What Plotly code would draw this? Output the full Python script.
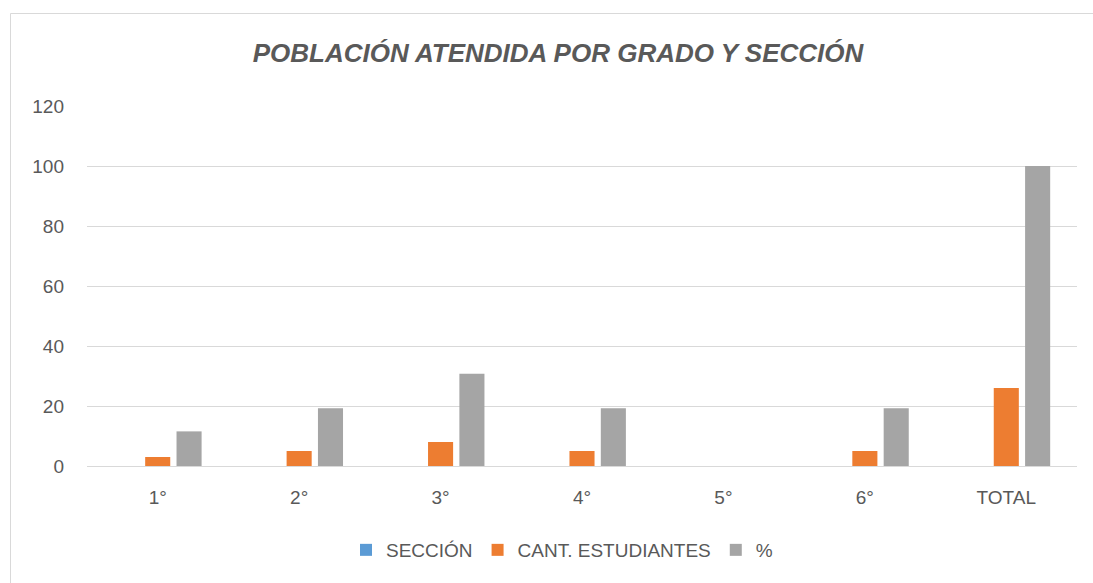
import plotly.graph_objects as go

categories = ["1°", "2°", "3°", "4°", "5°", "6°", "TOTAL"]
seccion = [0, 0, 0, 0, 0, 0, 0]
cant_estudiantes = [3, 5, 8, 5, 0, 5, 26]
porcentaje = [11.54, 19.23, 30.77, 19.23, 0, 19.23, 100]

W, H = 1093, 583
ML, MR, MT, MB = 87, 16, 106, 117
PW = W - ML - MR
PH = H - MT - MB

def px_x(p):
    return (p - ML) / PW

def px_y(p):
    return (H - MB - p) / PH

txt = "#595959"
font_family = "Liberation Sans, Arial, sans-serif"

fig = go.Figure()
fig.add_trace(go.Bar(name="SECCIÓN", x=categories, y=seccion, marker_color="#5b9bd5"))
fig.add_trace(go.Bar(name="CANT. ESTUDIANTES", x=categories, y=cant_estudiantes, marker_color="#ed7d31"))
fig.add_trace(go.Bar(name="%", x=categories, y=porcentaje, marker_color="#a5a5a5"))
fig.update_traces(marker_line_width=0)

fig.update_layout(
    width=W, height=H,
    margin=dict(l=ML, r=MR, t=MT, b=MB),
    paper_bgcolor="white", plot_bgcolor="white",
    barmode="group", bargap=0.335, bargroupgap=0.2,
    font=dict(family=font_family, color=txt, size=19),
    title=dict(text="<b><i>POBLACIÓN ATENDIDA POR GRADO Y SECCIÓN</i></b>",
               x=558 / W, xanchor="center", y=1 - 53 / H, yanchor="middle",
               xref="container", yref="container",
               font=dict(size=26, color=txt, family=font_family)),
    legend=dict(orientation="h", x=px_x(562), xanchor="center", y=px_y(550), yanchor="middle",
                font=dict(size=19, color=txt), itemwidth=30, traceorder="normal"),
    xaxis=dict(showgrid=False, showline=False, ticks="", tickfont=dict(size=19, color=txt),
               ticklabelstandoff=18),
    yaxis=dict(range=[0, 120], dtick=20, showgrid=True, gridcolor="#d9d9d9", gridwidth=1,
               zeroline=True, zerolinecolor="#d9d9d9", zerolinewidth=1, showline=False,
               ticks="", tickfont=dict(size=19, color=txt), ticklabelstandoff=22),
    shapes=[dict(type="rect", xref="paper", yref="paper",
                 x0=px_x(10.5), x1=px_x(1110), y0=px_y(600), y1=px_y(13.5),
                 line=dict(color="#d9d9d9", width=1), fillcolor="rgba(0,0,0,0)", layer="below")],
)

fig.write_html("out.html", post_script="document.body.style.margin='0';",
               config={"displayModeBar": False})
